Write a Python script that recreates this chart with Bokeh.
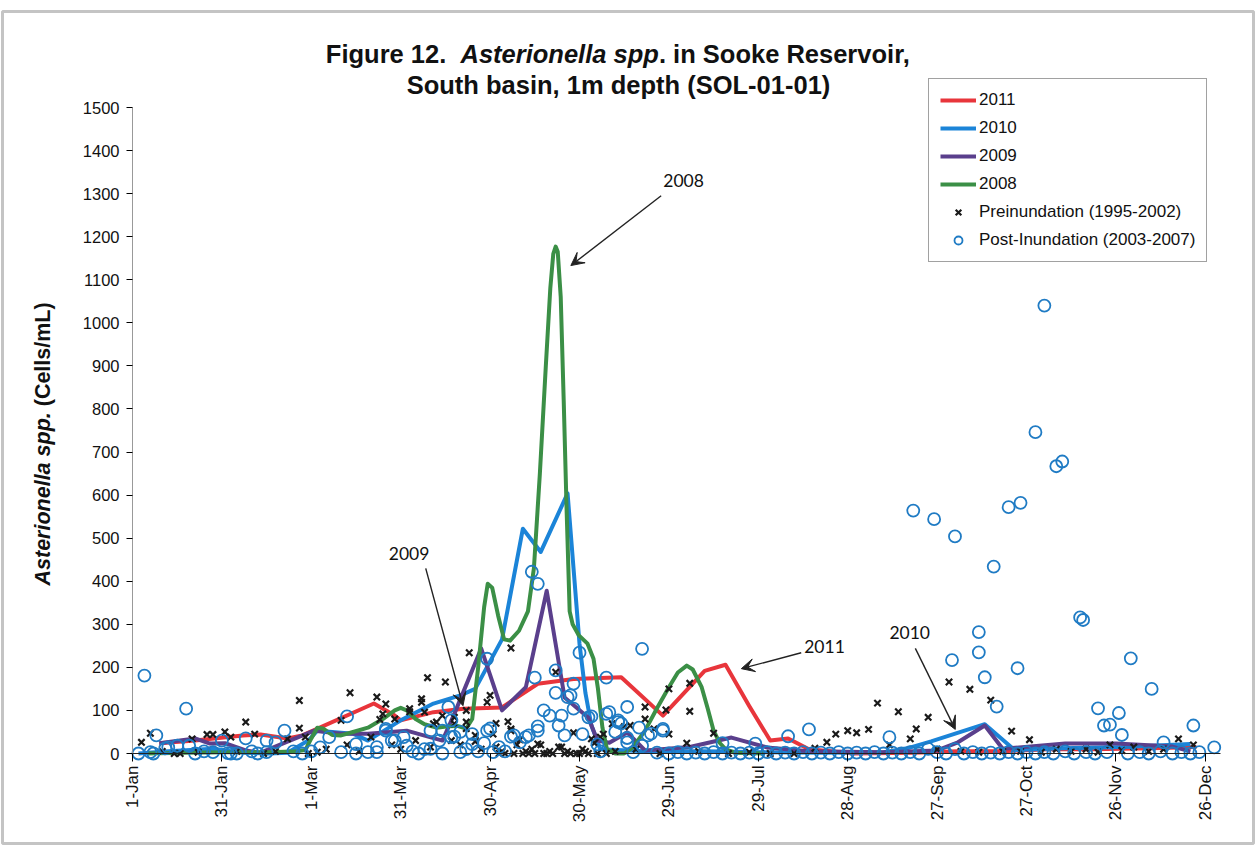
import math
from bokeh.plotting import figure
from bokeh.models import (FixedTicker, Legend, LegendItem, Label, Arrow, VeeHead, Range1d,
                          BoxAnnotation)
from bokeh.embed import file_html
from bokeh.resources import INLINE

# ---------------- data (day of year counted from 1-Jan, cells/mL) ----------------
tick_days = [0, 30, 60, 90, 120, 150, 180, 210, 240, 270, 300, 330, 360]
tick_labels = ["1-Jan", "31-Jan", "1-Mar", "31-Mar", "30-Apr", "30-May", "29-Jun",
               "29-Jul", "28-Aug", "27-Sep", "27-Oct", "26-Nov", "26-Dec"]

red_days = [9, 21, 37, 43, 52, 57, 81, 88, 90, 101, 111, 124, 136, 148, 164, 178, 192, 199,
            207, 214, 220, 227, 242, 262, 277, 292, 307, 322, 342, 357]
red_vals = [24, 30, 42, 44, 35, 42, 116, 88, 77, 96, 104, 107, 162, 173, 177, 88, 192, 206,
            110, 30, 35, 10, 0, 2, 5, 5, 10, 10, 12, 15]

blue_days = [2, 12, 27, 37, 46, 52, 59, 62, 74, 79, 90, 101, 110, 115, 124, 131, 137, 146,
             150, 152, 154, 157, 172, 192, 212, 232, 252, 260, 268, 286, 296, 312, 332, 355]
blue_vals = [0, 5, 11, 2, 0, 2, 30, 53, 46, 30, 77, 116, 135, 150, 265, 522, 468, 604,
             255, 140, 65, 10, 5, 5, 3, 2, 3, 12, 28, 68, 8, 12, 15, 22]

purple_days = [9, 21, 26, 31, 38, 43, 61, 70, 79, 92, 104, 108, 117, 124, 132, 139, 145, 153,
               156, 160, 166, 172, 187, 201, 213, 227, 252, 270, 277, 286, 292, 313, 330, 349, 355]
purple_vals = [24, 35, 23, 24, 7, 2, 53, 46, 46, 53, 30, 92, 244, 100, 154, 378, 130, 83,
               30, 25, 49, 7, 15, 37, 14, 5, 3, 7, 26, 65, 11, 23, 23, 16, 5]

green_days = [5, 17, 32, 47, 55, 58, 60, 62, 64, 67, 70, 74, 79, 84, 88, 90, 92, 95, 98, 102,
              106, 109, 112, 114, 116, 118, 119.2, 120.7, 122.7, 124.7, 126.7, 129.7, 132.7,
              134.7, 136.7, 138.7, 140.2, 141.2, 142, 142.7, 143.7, 144.7, 145.7, 146.7, 147.7,
              149.7, 152.7, 154.7, 156.2, 157.7, 159.2, 162, 165, 168, 172, 176, 180, 183, 186,
              188, 191, 193, 195, 197, 199, 202, 212]
green_vals = [0, 2, 3, 3, 5, 8, 35, 60, 58, 43, 42, 50, 60, 80, 100, 106, 100, 80, 68, 60,
              63, 64, 58, 80, 200, 340, 394, 385, 320, 265, 262, 285, 330, 430, 650, 900,
              1080, 1160, 1177, 1165, 1060, 820, 560, 330, 300, 275, 255, 220, 150, 60,
              10, 0, 0, 15, 53, 105, 154, 188, 204, 195, 154, 105, 53, 25, 10, 2, 0]

pre_days = [3, 6, 10, 14, 16, 20, 22, 25, 27, 31, 33, 35, 38, 41, 44, 48, 52, 56, 56, 58, 59, 62,
            65, 70, 72, 73, 76, 80, 82, 83, 84, 85, 87, 88, 90, 93, 93, 95, 97, 97, 98, 99, 100,
            101, 102, 104, 105, 107, 108, 108, 110, 112, 112, 112, 113, 115, 115, 117, 119, 120,
            121, 122, 122, 123, 124, 125, 126, 127, 127, 127, 128, 129, 130, 131, 132, 133, 134,
            135, 136, 137, 138, 139, 140, 141, 142, 143, 144, 145, 146, 147, 148, 149, 150, 151,
            152, 153, 154, 155, 156, 157, 158, 159, 161, 162, 165, 167, 169, 172, 172, 175, 177,
            179, 180, 180, 186, 187, 187, 190, 195, 200, 207, 214, 222, 229, 233, 236, 240, 243,
            247, 250, 254, 257, 261, 263, 267, 270, 274, 278, 281, 284, 288, 292, 295, 298, 301,
            305, 310, 315, 320, 324, 328, 332, 336, 341, 346, 351, 356]
pre_vals = [26, 47, 5, 0, 0, 34, 3, 44, 44, 50, 38, 5, 73, 45, 0, 5, 34, 123, 59, 38, 0, 3,
            10, 77, 20, 141, 5, 38, 131, 79, 92, 115, 20, 80, 10, 104, 97, 30, 119, 127, 96, 176, 15,
            69, 73, 88, 166, 30, 69, 84, 20, 100, 73, 58, 234, 42, 28, 10, 119, 135,
            45, 70, 15, 0, 5, 0, 74, 245, 53, 57, 0, 20, 32, 0, 5, 0, 10,
            0, 22, 20, 0, 0, 5, 0, 189, 15, 15, 0, 5, 0, 48, 0, 0, 10,
            5, 0, 34, 24, 0, 38, 45, 0, 69, 5, 62, 65, 10, 108, 80, 57, 0,
            101, 150, 45, 24, 98, 163, 5, 47, 0, 3, 0, 0, 12, 26, 45, 53, 48,
            56, 117, 20, 97, 34, 57, 84, 10, 166, 5, 149, 3, 124, 5, 52, 5, 32,
            3, 10, 5, 10, 3, 20, 7, 15, 5, 10, 34, 20]

post_days = [2, 4, 6, 7, 8, 11, 12, 15, 18, 19, 21, 24, 27, 30, 32, 33, 35, 38, 40, 42, 45, 45,
             48, 51, 54, 57, 60, 63, 66, 70, 72, 75, 75, 79, 82, 82, 85, 85, 87, 88, 91, 92, 94,
             96, 98, 100, 100, 103, 104, 104, 106, 107, 107, 108, 110, 110, 112, 114, 114, 116,
             118, 119, 119, 120, 121, 123, 125, 127, 128, 130, 132, 133, 134, 135, 136, 136, 136,
             138, 140, 142, 142, 143, 144, 145, 146, 147, 148, 148, 150, 151, 153, 154, 156, 157,
             159, 159, 160, 162, 163, 163, 164, 166, 166, 166, 168, 170, 171, 171, 173, 174, 178,
             178, 176, 180, 183, 186, 189, 192, 195, 198, 198, 201, 204, 207, 209, 210, 213, 216,
             219, 220, 222, 225, 227, 228, 231, 234, 237, 240, 243, 246, 249, 252, 254, 255, 258,
             261, 262, 264, 267, 269, 270, 273, 275, 276, 276, 279, 282, 284, 284, 285, 286, 288,
             289, 290, 291, 294, 294, 297, 298, 297, 300, 303, 303, 306, 306, 309, 310, 312, 313,
             316, 318, 319, 320, 323, 324, 326, 327, 328, 331, 332, 334, 335, 338, 341, 342, 345,
             346, 349, 352, 355, 356, 358, 363]
post_vals = [0, 181, 3, 0, 42, 12, 14, 18, 104, 18, 0, 5, 3, 30, 1, 0, 0, 35, 5, 0, 30, 3,
             26, 53, 5, 0, 5, 14, 38, 3, 86, 22, 0, 3, 3, 15, 53, 57, 30, 30, 38, 18, 5,
             0, 10, 53, 11, 30, 53, 0, 108, 77, 38, 39, 3, 50, 10, 45, 22, 5,
             24, 53, 220, 58, 3, 15, 5, 39, 42, 26, 38, 42, 422, 176, 394, 53, 63,
             100, 88, 193, 141, 65, 88, 42, 131, 135, 162, 104, 234, 45, 84, 86, 21, 5,
             176, 92, 96, 50, 73, 77, 70, 108, 26, 36, 3, 60, 243, 18, 42, 46, 57,
             53, 2, 0, 3, 0, 2, 0, 3, 0, 24, 2, 0, 2, 23, 0, 3, 0,
             2, 40, 0, 3, 56, 0, 2, 0, 3, 0, 2, 0, 3, 0, 38, 2, 0,
             3, 564, 0, 11, 544, 3, 0, 217, 504, 10, 0, 3, 282, 235, 0, 177, 2,
             434, 109, 0, 572, 3, 198, 582, 0, 3, 746, 0, 1040, 3, 0, 667, 678, 5,
             0, 316, 310, 3, 0, 105, 65, 3, 67, 94, 43, 0, 221, 3, 0, 150, 5,
             26, 0, 3, 0, 65, 3, 14]

# ---------------- layout: the plot frame fills the whole canvas ----------------
W, H = 1256, 850
PX_PER_DAY = 2.98             # horizontal scale
PX_PER_UNIT = 646 / 1500.0    # vertical scale
X0_PX, Y0_PX = 132, 753       # page position of (1-Jan, 0)
xs = -X0_PX / PX_PER_DAY
xe = xs + W / PX_PER_DAY
ys = -(H - Y0_PX) / PX_PER_UNIT
ye = ys + H / PX_PER_UNIT
AXIS_X = 0                    # value axis stands at 1-Jan
X_END = 365

RED, BLUE, PURPLE, GREEN = "#e8353b", "#1b84d8", "#5a3f8c", "#3b8f46"
CIRCLE = "#1f7bc4"
FONT = "Liberation Sans"

p = figure(width=W, height=H, output_backend="svg", toolbar_location=None, title=None,
           x_range=Range1d(xs, xe), y_range=Range1d(ys, ye), min_border=0)
p.outline_line_color = None
p.grid.grid_line_color = None
p.background_fill_color = "white"
p.border_fill_color = "white"

r_red = p.line(red_days, red_vals, line_color=RED, line_width=4, line_join="round")
r_blue = p.line(blue_days, blue_vals, line_color=BLUE, line_width=4, line_join="round")
r_purple = p.line(purple_days, purple_vals, line_color=PURPLE, line_width=4, line_join="round")
r_green = p.line(green_days, green_vals, line_color=GREEN, line_width=4, line_join="round")
r_pre = p.scatter(pre_days, pre_vals, marker="x", size=9, line_width=2.2, line_color="#1a1a1a")
r_post = p.scatter(post_days, post_vals, marker="circle", size=12, line_width=1.8,
                   line_color=CIRCLE, fill_color=None)

# axes drawn at fixed data locations inside the frame
p.xaxis.fixed_location = 0
p.xaxis.bounds = (AXIS_X, X_END)
p.xaxis.ticker = FixedTicker(ticks=tick_days)
p.xaxis.major_label_overrides = {d: l for d, l in zip(tick_days, tick_labels)}
p.xaxis.major_label_orientation = math.pi / 2
p.xaxis.major_label_text_font = FONT
p.xaxis.major_label_text_font_size = "17px"
p.xaxis.major_label_text_color = "#111"
p.xaxis.major_tick_out = 8
p.xaxis.major_tick_in = 0
p.xaxis.minor_tick_out = 0
p.xaxis.minor_tick_in = 0
p.xaxis.major_label_standoff = 4
p.xaxis.axis_line_color = "#222"

p.yaxis.fixed_location = AXIS_X
p.yaxis.bounds = (0, 1500)
p.yaxis.ticker = FixedTicker(ticks=list(range(0, 1501, 100)))
p.yaxis.major_label_text_font = FONT
p.yaxis.major_label_text_font_size = "16.5px"
p.yaxis.major_label_text_color = "#111"
p.yaxis.major_tick_out = 6
p.yaxis.major_tick_in = 0
p.yaxis.minor_tick_out = 0
p.yaxis.minor_tick_in = 0
p.yaxis.major_label_standoff = 7
p.yaxis.axis_line_color = "#999"

# legend
legend = Legend(items=[
    LegendItem(label="2011", renderers=[r_red]),
    LegendItem(label="2010", renderers=[r_blue]),
    LegendItem(label="2009", renderers=[r_purple]),
    LegendItem(label="2008", renderers=[r_green]),
    LegendItem(label="Preinundation (1995-2002)", renderers=[r_pre]),
    LegendItem(label="Post-Inundation (2003-2007)", renderers=[r_post]),
], location=(928, H - 262))
legend.label_text_font = FONT
legend.label_text_font_size = "17px"
legend.label_text_color = "#111"
legend.glyph_width = 36
legend.glyph_height = 20
legend.label_height = 20
legend.label_standoff = 3
legend.spacing = 8
legend.padding = 11
legend.margin = 0
legend.border_line_color = "#444"
legend.border_line_width = 1
legend.background_fill_color = "white"
legend.background_fill_alpha = 1
p.add_layout(legend)

# ---------------- title and y label (mixed styles) ----------------
AB = {' ': 278, '(': 333, ')': 333, ',': 278, '-': 333, '.': 278, '/': 278,
      'A': 722, 'C': 722, 'F': 611, 'L': 611, 'O': 778, 'R': 722, 'S': 667,
      'a': 556, 'b': 611, 'c': 556, 'd': 611, 'e': 556, 'f': 333, 'g': 611, 'h': 611,
      'i': 278, 'k': 556, 'l': 278, 'm': 889, 'n': 611, 'o': 611, 'p': 611, 'r': 389,
      's': 556, 't': 333, 'u': 611, 'v': 556}


def tw(s, size):
    return sum(AB.get(c, 556) for c in s) * size / 1000.0


def lab(x, y_page, text, size, style="bold", angle=0.0, align="left", baseline="alphabetic"):
    p.add_layout(Label(x=x, y=H - y_page, x_units="screen", y_units="screen", text=text,
                       text_font=FONT, text_font_size=f"{size}px", text_font_style=style,
                       text_color="#111", angle=angle, text_align=align,
                       text_baseline=baseline))


TS = 25.5
pieces = [("Figure 12.", "bold", "Figure 12.  "),
          ("Asterionella spp", "bold italic", "Asterionella spp"),
          (". in Sooke Reservoir,", "bold", ". in Sooke Reservoir,")]
total = sum(tw(w, TS) for _, _, w in pieces)
cx = 618
x0 = cx - total / 2
for txt, st, w in pieces:
    lab(x0, 53, txt, TS, st)
    x0 += tw(w, TS)
lab(cx, 84, "South basin, 1m depth (SOL-01-01)", TS, "bold", align="center")

YS = 21.5
ybot = 585
lab(42, ybot, "Asterionella spp.", YS, "bold italic", angle=math.pi / 2, baseline="middle")
lab(42, ybot - tw("Asterionella spp. ", YS), "(Cells/mL)", YS, "bold",
    angle=math.pi / 2, baseline="middle")

# ---------------- callouts ----------------
callouts = [("2008", 178.1, 1330, 177.4, 1295, 147.1, 1133),
            ("2009", 86.0, 464, 98.4, 430, 110.9, 111),
            ("2011", 225.4, 248, 224.4, 234, 204.3, 197),
            ("2010", 254.0, 281, 262.7, 244, 276.1, 56)]
for t, tx, ty, xs_, ys_, xe_, ye_ in callouts:
    p.add_layout(Label(x=tx, y=ty, text=t, text_font="Lato", text_font_size="17.5px",
                       text_color="#111", text_baseline="middle", text_align="left"))
    p.add_layout(Arrow(x_start=xs_, y_start=ys_, x_end=xe_, y_end=ye_, line_width=1.4,
                       line_color="#222",
                       end=VeeHead(size=13, fill_color="#222", line_color="#222")))

# scanned page border
p.add_layout(BoxAnnotation(left=2, right=W - 3, top=H - 11, bottom=H - 843,
                           left_units="screen", right_units="screen",
                           top_units="screen", bottom_units="screen",
                           fill_alpha=0, line_color="#3a3a3a", line_width=3))

open("out.html", "w").write(file_html(p, INLINE))
